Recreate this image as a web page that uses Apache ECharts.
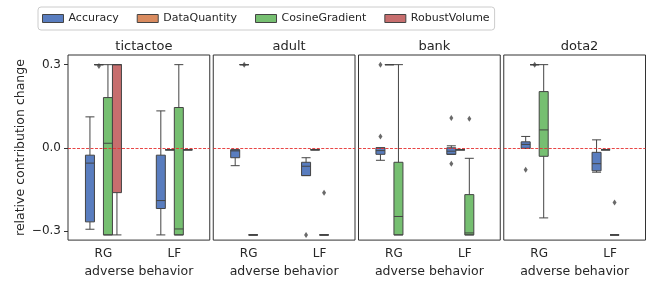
<!DOCTYPE html>
<html>
<head>
<meta charset="utf-8">
<script src="https://cdn.jsdelivr.net/npm/echarts@6/dist/echarts.min.js"></script>
<style>
  html, body { margin: 0; padding: 0; background: #fff; }
  #main { width: 651px; height: 283px; }
</style>
</head>
<body>
<div id="main"></div>
<script>
// panels, groups and series names
const datasets = ['tictactoe', 'adult', 'bank', 'dota2']
const behaviors = ['RG', 'LF']
const metrics = ['Accuracy', 'DataQuantity', 'CosineGradient', 'RobustVolume']
const yTicks = [-0.3, 0, 0.3]

// box stats, one row per behavior (RG, LF): [low whisker, Q1, median, Q3, high whisker]
const tictactoeAccuracy = [[-0.28, -0.254, -0.047, -0.019, 0.116], [-0.3, -0.207, -0.179, -0.019, 0.137]]
const tictactoeDataQuantity = [[0.3, 0.3, 0.3, 0.3, 0.3], [0, 0, 0, 0, 0]]
const tictactoeCosineGradient = [[-0.3, -0.3, 0.023, 0.184, 0.3], [-0.3, -0.3, -0.279, 0.149, 0.3]]
const tictactoeRobustVolume = [[-0.3, -0.151, 0.3, 0.3, 0.3], [0, 0, 0, 0, 0]]

const adultAccuracy = [[-0.056, -0.028, -0.004, 0.0, 0.0], [-0.091, -0.091, -0.058, -0.044, -0.028]]
const adultDataQuantity = [[0.3, 0.3, 0.3, 0.3, 0.3], [0, 0, 0, 0, 0]]
const adultCosineGradient = [[-0.3, -0.3, -0.3, -0.3, -0.3], [-0.3, -0.3, -0.3, -0.3, -0.3]]

const bankAccuracy = [[-0.037, -0.016, -0.003, 0.007, 0.007], [-0.016, -0.016, -0.005, 0.007, 0.014]]
const bankDataQuantity = [[0.3, 0.3, 0.3, 0.3, 0.3], [0, 0, 0, 0, 0]]
const bankCosineGradient = [[-0.3, -0.3, -0.235, -0.044, 0.3], [-0.3, -0.3, -0.293, -0.158, -0.03]]

const dota2Accuracy = [[0.005, 0.005, 0.019, 0.028, 0.047], [-0.079, -0.074, -0.049, -0.009, 0.035]]
const dota2DataQuantity = [[0.3, 0.3, 0.3, 0.3, 0.3], [0, 0, 0, 0, 0]]
const dota2CosineGradient = [[-0.24, -0.023, 0.07, 0.205, 0.3], [-0.3, -0.3, -0.3, -0.3, -0.3]]

// outliers: [behavior index, metric index, value]
const tictactoeOutliers = [[0, 1, 0.295]]
const adultOutliers = [[0, 1, 0.3], [1, 0, -0.3], [1, 2, -0.151]]
const bankOutliers = [[0, 0, 0.3], [0, 0, 0.047], [1, 0, 0.112], [1, 0, -0.049], [1, 2, 0.109]]
const dota2Outliers = [[0, 1, 0.3], [0, 0, -0.07], [1, 2, -0.186]]

const boxes = {
  tictactoe: [tictactoeAccuracy, tictactoeDataQuantity, tictactoeCosineGradient, tictactoeRobustVolume],
  adult: [adultAccuracy, adultDataQuantity, adultCosineGradient, null],
  bank: [bankAccuracy, bankDataQuantity, bankCosineGradient, null],
  dota2: [dota2Accuracy, dota2DataQuantity, dota2CosineGradient, null]
}
const outliers = { tictactoe: tictactoeOutliers, adult: adultOutliers, bank: bankOutliers, dota2: dota2Outliers }

// layout
const font = 'DejaVu Sans'
const colors = ['#597dbf', '#d98b5f', '#76bf71', '#c76e6e']
const lineColor = '#444'
const panelLeft = 68
const panelWidth = 141.75
const panelGap = 3.5
const panelTop = 55
const panelHeight = 189
const yMin = -0.332
const yMax = 0.334
const boxShift = [-13.5, -4.5, 4.5, 13.5] // dodge each metric inside its group

const grid = []
const xAxis = []
const yAxis = []
const series = []
const title = []

datasets.forEach((ds, p) => {
  const left = panelLeft + p * (panelWidth + panelGap)
  const gi = grid.length
  // visible panel with frame and labels
  grid.push({ left: left, top: panelTop, width: panelWidth, height: panelHeight, show: true, borderColor: '#333', borderWidth: 1 })
  xAxis.push({
    type: 'category', gridIndex: gi, data: behaviors,
    axisLine: { show: false }, axisTick: { show: false },
    axisLabel: { fontSize: 12, color: '#262626', fontFamily: font, margin: 8 },
    name: 'adverse behavior', nameLocation: 'middle', nameGap: 22,
    nameTextStyle: { fontSize: 12.5, color: '#262626', fontFamily: font }
  })
  yAxis.push({
    type: 'value', gridIndex: gi, min: yMin, max: yMax,
    axisLine: { show: false }, splitLine: { show: false },
    axisTick: { show: p === 0, length: 4, customValues: yTicks, lineStyle: { color: '#333' } },
    axisLabel: {
      show: p === 0, customValues: yTicks, fontSize: 12, color: '#262626', fontFamily: font, margin: 7,
      formatter: v => v.toFixed(1).replace('-', '\u2212')
    },
    name: p === 0 ? 'relative contribution change' : '', nameLocation: 'middle', nameGap: 41,
    nameTextStyle: { fontSize: 12.5, color: '#262626', fontFamily: font }
  })
  title.push({
    text: ds, left: left + panelWidth / 2, top: 35, textAlign: 'center',
    textStyle: { fontSize: 13, fontWeight: 'normal', color: '#262626', fontFamily: font }
  })
  // red dashed zero line
  series.push({
    type: 'line', xAxisIndex: gi, yAxisIndex: gi, data: [], z: 10, silent: true,
    markLine: {
      silent: true, symbol: ['none', 'none'], label: { show: false },
      lineStyle: { color: '#e63232', type: [3, 1.5], width: 1, opacity: 0.9 },
      data: [{ yAxis: 0 }]
    }
  })

  metrics.forEach((m, k) => {
    const data = boxes[ds][k]
    if (!data) return
    const hi = grid.length
    grid.push({ left: left + boxShift[k], top: panelTop, width: panelWidth, height: panelHeight, show: false })
    xAxis.push({ type: 'category', gridIndex: hi, data: behaviors, show: false })
    yAxis.push({ type: 'value', gridIndex: hi, min: yMin, max: yMax, show: false })
    series.push({
      name: m, type: 'boxplot', xAxisIndex: hi, yAxisIndex: hi,
      boxWidth: [9, 9], data: data, silent: true,
      itemStyle: { color: colors[k], borderColor: lineColor, borderWidth: 1 }
    })
    const pts = outliers[ds].filter(o => o[1] === k).map(o => [behaviors[o[0]], o[2]])
    if (pts.length) {
      series.push({
        name: m, type: 'scatter', xAxisIndex: hi, yAxisIndex: hi, data: pts, silent: true,
        symbol: 'diamond', symbolSize: [4, 6], itemStyle: { color: lineColor }, z: 5
      })
    }
  })
})

const chart = echarts.init(document.getElementById('main'))
chart.setOption({
  animation: false,
  title: title,
  legend: {
    top: 7, left: 38,
    data: metrics.map((m, k) => ({
      name: m, icon: 'rect',
      itemStyle: { color: colors[k], borderColor: lineColor, borderWidth: 1 }
    })),
    itemWidth: 21, itemHeight: 8, itemGap: 18,
    borderColor: '#ccc', borderWidth: 1, borderRadius: 3, padding: [6, 5, 6, 4],
    textStyle: { fontSize: 11, color: '#262626', fontFamily: font }
  },
  grid: grid,
  xAxis: xAxis,
  yAxis: yAxis,
  series: series
})
</script>
</body>
</html>
